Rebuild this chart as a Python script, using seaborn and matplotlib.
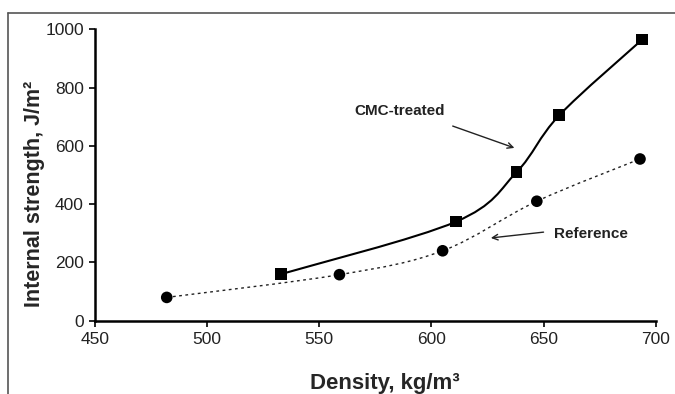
import numpy as np
import pandas as pd
import seaborn as sns
import matplotlib.pyplot as plt
from matplotlib.path import Path
from matplotlib.patches import PathPatch
from matplotlib.lines import Line2D

# ---------------- data ----------------
cmc_density = [533, 611, 638, 657, 694]
cmc_strength = [160, 340, 510, 705, 965]

ref_density = [482, 559, 605, 647, 693]
ref_strength = [80, 158, 240, 410, 555]

x_ticks = [450, 500, 550, 600, 650, 700]
y_ticks = [0, 200, 400, 600, 800, 1000]

df = pd.concat([
    pd.DataFrame({'density': cmc_density, 'strength': cmc_strength, 'series': 'CMC-treated'}),
    pd.DataFrame({'density': ref_density, 'strength': ref_strength, 'series': 'Reference'}),
])


def smooth_path(xs, ys):
    # Excel-style smoothed line: cubic Bezier segments through the points
    pts = np.column_stack([xs, ys]).astype(float)
    verts = [tuple(pts[0])]
    codes = [Path.MOVETO]
    n = len(pts)
    for i in range(n - 1):
        p0 = pts[i - 1] if i > 0 else pts[i]
        p1 = pts[i]
        p2 = pts[i + 1]
        p3 = pts[i + 2] if i + 2 < n else pts[i + 1]
        c1 = p1 + (p2 - p0) / 6.0
        c2 = p2 - (p3 - p1) / 6.0
        verts += [tuple(c1), tuple(c2), tuple(p2)]
        codes += [Path.CURVE4] * 3
    return Path(verts, codes)


sns.set_style("ticks")
plt.rcParams['font.family'] = ['Liberation Sans', 'DejaVu Sans']

fig = plt.figure(figsize=(6.75, 3.94), dpi=100)
ax = fig.add_axes([0.1407, 0.186, 0.8307, 0.7396])

# lines
ax.add_patch(PathPatch(smooth_path(cmc_density, cmc_strength), fill=False,
                       edgecolor='black', lw=1.5, zorder=2))
ax.add_patch(PathPatch(smooth_path(ref_density, ref_strength), fill=False,
                       edgecolor='#222222', lw=1.0, linestyle=(0, (2, 2.5)), zorder=2))

# markers
sns.scatterplot(data=df, x='density', y='strength', hue='series', style='series',
                markers={'CMC-treated': 's', 'Reference': 'o'},
                palette={'CMC-treated': 'black', 'Reference': 'black'},
                s=70, edgecolor='none', legend=False, ax=ax, zorder=3)

ax.set_xlim(450, 700)
ax.set_ylim(0, 1000)
ax.set_xticks(x_ticks)
ax.set_yticks(y_ticks)
ax.tick_params(axis='both', labelsize=12.5, length=4, width=1.2, color='black',
               labelcolor='#222222', pad=4)
for side in ['left', 'bottom']:
    ax.spines[side].set_linewidth(1.8)
    ax.spines[side].set_color('black')
sns.despine(ax=ax)

ax.set_xlabel("Density, kg/m³", fontsize=16, fontweight='bold')
ax.set_ylabel("Internal strength, J/m²", fontsize=15.5, fontweight='bold')
ax.xaxis.set_label_coords(0.517, -0.178)
ax.yaxis.set_label_coords(-0.090, 0.435)

# annotations
ax.text(586, 720, "CMC-treated", ha='center', va='center', fontsize=11,
        fontweight='bold', color='#222222')
ax.annotate("", xy=(637, 593), xytext=(609.5, 668),
            arrowprops=dict(arrowstyle='->', color='#222222', lw=1.0,
                            shrinkA=0, shrinkB=0))
ax.text(671, 298, "Reference", ha='center', va='center', fontsize=11,
        fontweight='bold', color='#222222')
ax.annotate("", xy=(626.5, 284), xytext=(650, 304),
            arrowprops=dict(arrowstyle='->', color='#222222', lw=1.0,
                            shrinkA=0, shrinkB=0))

# outer frame (left and top edges)
fig.add_artist(Line2D([0.012, 0.012], [0.0, 0.967], transform=fig.transFigure,
                      color='#555555', lw=1.2))
fig.add_artist(Line2D([0.012, 1.0], [0.967, 0.967], transform=fig.transFigure,
                      color='#555555', lw=1.2))

plt.savefig("out.png", dpi=100)
plt.close()
